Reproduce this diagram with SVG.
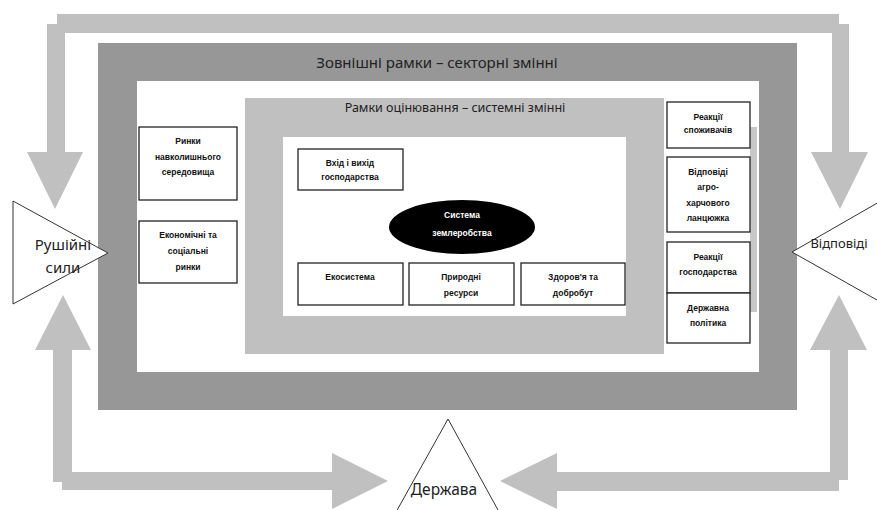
<svg xmlns="http://www.w3.org/2000/svg" width="877" height="510" viewBox="0 0 877 510">
<style>
.arrow{fill:#c0c0c0}
.box{fill:#fff;stroke:#222;stroke-width:1.3}
.tri{fill:#fff;stroke:#333;stroke-width:1}
.t{font-family:"Liberation Sans",Arial,sans-serif;font-weight:bold;font-size:8.5px;fill:#111;text-anchor:middle}
.big{font-family:"Noto Sans","Open Sans",sans-serif;fill:#222;text-anchor:middle}
</style>
<rect width="877" height="510" fill="#fff"/>
<g id="connectors">
<polygon class="arrow" points="55,209 27,152 47,152 47,24 57,24 57,14 839,14 839,24 849,24 849,152 868,152 840,209 811,152 832,152 832,33 65,33 65,152 83,152"/>
<polygon class="arrow" points="63,295 91,350 72,350 72,472 332,472 332,453 388,481 332,509 332,490 62,490 62,482 53,482 53,350 35,350"/>
<polygon class="arrow" points="839,295 867,350 848,350 848,480 839,480 839,491 557,491 557,509 500,481 557,453 557,472 830,472 830,350 810,350"/>
</g>
<g id="outer-frame">
<path d="M98,43H797V410H98Z M137,81V372H759V81Z" fill="#979797" fill-rule="evenodd"/>
<text class="big" x="437" y="68" font-size="15">Зовнішні рамки – секторні змінні</text>
</g>
<g id="eval-frame">
<path d="M245,98H664V354H245Z M283,137V316H626V137Z" fill="#c0c0c0" fill-rule="evenodd"/>
<rect x="750" y="127" width="7" height="185" fill="#c8c8c8"/>
<text class="big" x="455" y="112" font-size="12.5">Рамки оцінювання – системні змінні</text>
</g>
<g id="env-markets">
<rect class="box" x="139" y="127" width="98" height="73"/>
<text class="t" x="188" y="144">Ринки</text>
<text class="t" x="188" y="160">навколишнього</text>
<text class="t" x="188" y="175">середовища</text>
</g>
<g id="econ-markets">
<rect class="box" x="139" y="221" width="98" height="62"/>
<text class="t" x="188" y="238">Економічні та</text>
<text class="t" x="188" y="254">соціальні</text>
<text class="t" x="188" y="270">ринки</text>
</g>
<g id="farm-io">
<rect class="box" x="298" y="149" width="105" height="41"/>
<text class="t" x="350" y="166">Вхід і вихід</text>
<text class="t" x="350" y="180">господарства</text>
</g>
<g id="farm-system">
<ellipse cx="462" cy="227" rx="73" ry="27" fill="#000"/>
<text class="t" x="462" y="218" fill="#fff" style="fill:#fff">Система</text>
<text class="t" x="462" y="236" style="fill:#fff">землеробства</text>
</g>
<g id="ecosystem">
<rect class="box" x="298" y="263" width="105" height="42"/>
<text class="t" x="350" y="280">Екосистема</text>
</g>
<g id="natural-resources">
<rect class="box" x="409" y="263" width="105" height="42"/>
<text class="t" x="461" y="280">Природні</text>
<text class="t" x="461" y="296">ресурси</text>
</g>
<g id="health">
<rect class="box" x="521" y="263" width="104" height="42"/>
<text class="t" x="573" y="280">Здоров'я та</text>
<text class="t" x="573" y="296">добробут</text>
</g>
<g id="consumer-reactions">
<rect class="box" x="667" y="102" width="83" height="46"/>
<text class="t" x="708" y="120">Реакції</text>
<text class="t" x="708" y="133">споживачів</text>
</g>
<g id="agrifood-responses">
<rect class="box" x="667" y="157" width="83" height="75"/>
<text class="t" x="708" y="175">Відповіді</text>
<text class="t" x="708" y="190">агро-</text>
<text class="t" x="708" y="206">харчового</text>
<text class="t" x="708" y="221">ланцюжка</text>
</g>
<g id="farm-reactions">
<rect class="box" x="667" y="242" width="83" height="51"/>
<text class="t" x="708" y="260">Реакції</text>
<text class="t" x="708" y="275">господарства</text>
</g>
<g id="state-policy">
<rect class="box" x="667" y="293" width="83" height="50"/>
<text class="t" x="708" y="311">Державна</text>
<text class="t" x="708" y="326">політика</text>
</g>
<g id="driving-forces">
<polygon class="tri" points="13,201 108,253 13,304"/>
<text class="big" x="63" y="250" font-size="15">Рушійні</text>
<text class="big" x="63" y="273" font-size="15">сили</text>
</g>
<g id="responses">
<polygon class="tri" points="792,252 900,190 900,313"/>
<text class="big" x="839" y="248" font-size="13">Відповіді</text>
</g>
<g id="state">
<polygon class="tri" points="448,419 386,530 509,530"/>
<text class="big" x="444" y="495" font-size="15.5">Держава</text>
</g>
</svg>
